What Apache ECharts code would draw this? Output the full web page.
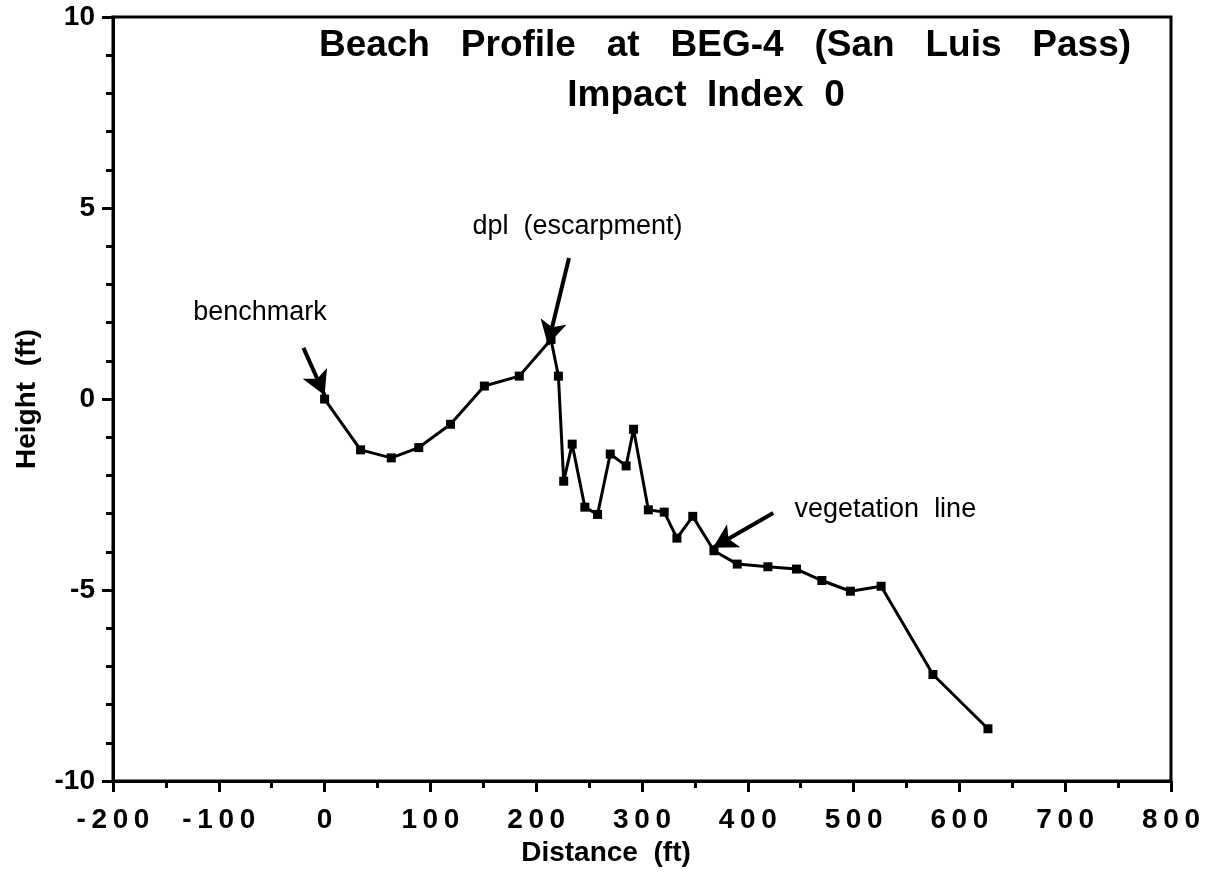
<!DOCTYPE html>
<html>
<head>
<meta charset="utf-8">
<script src="https://cdn.jsdelivr.net/npm/echarts@6/dist/echarts.min.js"></script>
<style>
	html, body { margin: 0; padding: 0; background: #fff; }
	#main { width: 1212px; height: 872px; }
</style>
</head>
<body>
<div id="main"></div>
<script>
	// profile survey points
	var distance = [0, 34, 63, 89, 119, 151, 184, 214, 221, 226, 234, 246, 258, 270, 285, 292, 306, 321, 333, 348, 368, 390, 419, 446, 470, 497, 526, 575, 627]
	var height = [0, -1.33, -1.54, -1.27, -0.66, 0.34, 0.60, 1.56, 0.60, -2.15, -1.18, -2.83, -3.02, -1.44, -1.75, -0.79, -2.90, -2.96, -3.64, -3.07, -3.97, -4.32, -4.39, -4.45, -4.75, -5.03, -4.90, -7.21, -8.63]

	// annotations: text, label position, arrow tail, arrow tip
	var noteText = ['benchmark', 'dpl  (escarpment)', 'vegetation  line']
	var notePos = [[-61, 2.26], [239, 4.51], [530, -2.89]]
	var arrowFrom = [[-20, 1.34], [231, 3.69], [424, -2.98]]
	var arrowTo = [[0, 0.1], [211, 1.42], [367, -3.89]]

	var titleText = 'Beach   Profile   at   BEG-4   (San   Luis   Pass)'
	var subTitleText = 'Impact  Index  0'

	var points = distance.map(function (d, i) { return [d, height[i]] })

	var chart = echarts.init(document.getElementById('main'))

	var ink = '#000'
	var tickFont = {
		color: ink,
		fontFamily: 'Liberation Sans',
		fontWeight: 'bold',
		fontSize: 28
	}

	chart.setOption({
		backgroundColor: '#fff',
		animation: false,
		title: [{
			text: titleText,
			left: 720,
			top: 22,
			textAlign: 'center',
			textStyle: { color: ink, fontFamily: 'Liberation Sans', fontWeight: 'bold', fontSize: 37 }
		}, {
			text: subTitleText,
			left: 701,
			top: 72,
			textAlign: 'center',
			textStyle: { color: ink, fontFamily: 'Liberation Sans', fontWeight: 'bold', fontSize: 37 }
		}],
		grid: {
			left: 113,
			top: 17,
			right: 41,
			bottom: 90,
			show: true,
			borderColor: ink,
			borderWidth: 3
		},
		xAxis: {
			type: 'value',
			min: -200,
			max: 800,
			interval: 100,
			name: 'Distance  (ft)',
			nameLocation: 'middle',
			nameGap: 52,
			nameTextStyle: { color: ink, fontFamily: 'Liberation Sans', fontWeight: 'bold', fontSize: 28, padding: [0, 72, 0, 0] },
			axisLine: { onZero: false, lineStyle: { color: ink, width: 3 } },
			axisTick: { inside: false, length: 11, lineStyle: { color: ink, width: 3 } },
			minorTick: { show: true, splitNumber: 2, length: 7, lineStyle: { color: ink, width: 3 } },
			splitLine: { show: false },
			axisLabel: Object.assign({
				margin: 25,
				formatter: function (v) { return String(v).split('').join('\u2009') }
			}, tickFont)
		},
		yAxis: {
			type: 'value',
			min: -10,
			max: 10,
			interval: 5,
			name: 'Height  (ft)',
			nameLocation: 'middle',
			nameGap: 72,
			nameTextStyle: { color: ink, fontFamily: 'Liberation Sans', fontWeight: 'bold', fontSize: 28 },
			axisLine: { onZero: false, lineStyle: { color: ink, width: 3 } },
			axisTick: { inside: false, length: 11, lineStyle: { color: ink, width: 3 } },
			minorTick: { show: true, splitNumber: 5, length: 7, lineStyle: { color: ink, width: 3 } },
			splitLine: { show: false },
			axisLabel: Object.assign({ margin: 18 }, tickFont)
		},
		series: [{
			name: 'profile',
			type: 'line',
			data: points,
			symbol: 'rect',
			symbolSize: 9,
			showSymbol: true,
			lineStyle: { color: ink, width: 3 },
			itemStyle: { color: ink },
			z: 3,
			markLine: {
				silent: true,
				symbol: ['none', 'arrow'],
				symbolSize: [20, 24],
				lineStyle: { color: ink, width: 4, type: 'solid' },
				label: { show: false },
				data: arrowFrom.map(function (p, i) {
					return [{ coord: p }, { coord: arrowTo[i] }]
				})
			}
		}, {
			name: 'notes',
			type: 'scatter',
			data: notePos,
			symbolSize: 0,
			silent: true,
			itemStyle: { opacity: 1, color: ink },
			label: {
				show: true,
				position: 'inside',
				color: ink,
				fontFamily: 'Liberation Sans',
				fontSize: 27,
				formatter: function (p) { return noteText[p.dataIndex] }
			}
		}]
	})
</script>
</body>
</html>
